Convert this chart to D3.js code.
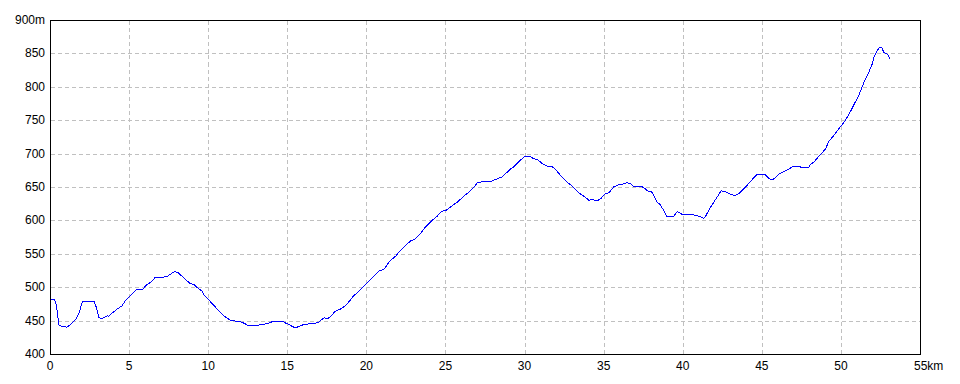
<!DOCTYPE html>
<html>
<head>
<meta charset="utf-8">
<script src="https://cdn.jsdelivr.net/npm/d3@7"></script>
<style>
  body { margin: 0; background: #fff; }
  text { font-family: "Liberation Sans Narrow", "Liberation Sans", sans-serif; font-size: 12px; fill: #000; }
</style>
</head>
<body>
<div id="chart"></div>
<script>
// distance (km) and elevation (m)
var distKm = [0, 0.25, 0.38, 0.53, 0.74, 1.05, 1.26, 1.58, 1.79, 2.0, 2.1, 2.42, 2.63, 2.74, 2.89, 3.05, 3.2, 3.37, 3.58, 3.69,
  3.9, 4.21, 4.53, 4.74, 5.06, 5.44, 5.8, 6.11, 6.32, 6.53, 6.64, 7.17, 7.38, 7.69, 7.84, 8.05, 8.32, 8.64, 8.85, 9.06,
  9.38, 9.59, 9.74, 10.07, 10.54, 10.96, 11.38, 11.7, 12.01, 12.22, 12.54, 12.96, 13.38, 13.7, 14.01, 14.43, 14.65, 14.86, 15.07, 15.28,
  15.49, 15.7, 16.02, 16.44, 16.75, 16.96, 17.18, 17.32, 17.49, 17.7, 18.02, 18.33, 18.65, 18.97, 19.17, 19.39, 19.6, 20.23, 20.55, 20.82,
  21.07, 21.39, 21.6, 21.81, 22.13, 22.44, 22.76, 23.07, 23.39, 23.71, 24.13, 24.45, 24.7, 25.02, 25.29, 25.71, 26.13, 26.45, 26.76, 26.98,
  27.08, 27.82, 28.13, 28.55, 28.83, 29.04, 29.29, 29.5, 29.76, 29.97, 30.35, 30.56, 30.77, 31.08, 31.4, 31.72, 31.93, 32.24, 32.67, 33.08,
  33.4, 33.72, 34.03, 34.24, 34.56, 34.77, 35.09, 35.3, 35.61, 35.93, 36.14, 36.41, 36.67, 36.88, 37.41, 37.62, 37.72, 38.04, 38.25, 38.35,
  38.52, 38.73, 38.94, 39.4, 39.62, 39.78, 39.97, 40.14, 40.67, 40.98, 41.3, 41.41, 41.72, 42.04, 42.4, 42.74, 43.09, 43.3, 43.52, 43.83,
  44.14, 44.63, 45.14, 45.41, 45.62, 45.83, 46.04, 46.36, 46.57, 46.89, 47.2, 47.52, 47.94, 48.05, 48.26, 48.47, 48.79, 49.0, 49.2, 49.52,
  49.84, 50.15, 50.47, 50.79, 51.1, 51.42, 51.74, 51.95, 52.06, 52.27, 52.43, 52.54, 52.69, 52.94, 53.06];

var elevM = [482, 482, 473, 444, 442, 441, 445, 452, 461, 478, 480, 480, 479, 480, 471, 456, 453, 455, 458, 457,
  462, 468, 473, 481, 488, 497, 497, 505, 508, 513, 516, 516, 517, 522, 524, 523, 517, 510, 506, 505,
  498, 495, 488, 480, 468, 458, 451, 450, 449, 447, 443, 443, 445, 446, 449, 450, 450, 447, 445, 442,
  440, 442, 445, 446, 447, 448, 453, 455, 453, 457, 465, 468, 473, 482, 488, 492, 497, 512, 520, 526,
  527, 538, 543, 547, 556, 563, 570, 573, 581, 591, 601, 607, 614, 616, 621, 628, 637, 643, 650, 657,
  658, 659, 662, 666, 672, 677, 681, 686, 692, 696, 696, 693, 692, 686, 682, 681, 677, 668, 658, 650,
  642, 637, 631, 632, 630, 633, 641, 642, 651, 654, 655, 657, 656, 651, 651, 648, 645, 643, 633, 628,
  625, 617, 607, 607, 614, 612, 609, 610, 609, 607, 604, 607, 620, 632, 645, 643, 639, 638, 641, 648,
  656, 669, 670, 664, 661, 665, 670, 674, 676, 681, 682, 680, 680, 685, 688, 694, 702, 708, 719, 728,
  738, 747, 759, 774, 788, 807, 823, 835, 845, 855, 860, 860, 852, 849, 843];

var xTicks = [0, 5, 10, 15, 20, 25, 30, 35, 40, 45, 50, 55];
var yTicks = [400, 450, 500, 550, 600, 650, 700, 750, 800, 850, 900];

var svgWidth = 960;
var svgHeight = 384;
var margin = { top: 20, left: 50, right: 40, bottom: 30 };
var width = svgWidth - margin.left - margin.right;
var height = svgHeight - margin.top - margin.bottom;

var profile = distKm.map(function(d, i) {
  return { km: d, elev: elevM[i] };
});

var svg = d3.select("#chart")
  .append("svg")
  .attr("width", svgWidth)
  .attr("height", svgHeight);

var chartGroup = svg.append("g")
  .attr("transform", `translate(${margin.left + 0.5}, ${margin.top + 0.5})`);

var xScale = d3.scaleLinear().domain([0, 55]).range([0, width]);
var yScale = d3.scaleLinear().domain([400, 900]).range([height, 0]);

// dashed grid
chartGroup.append("g")
  .selectAll("line")
  .data(xTicks.slice(1, -1))
  .enter()
  .append("line")
  .attr("x1", d => Math.round(xScale(d)))
  .attr("x2", d => Math.round(xScale(d)))
  .attr("y1", 0)
  .attr("y2", height)
  .attr("stroke", "#c0c0c0")
  .attr("stroke-dasharray", "4,3")
  .attr("shape-rendering", "crispEdges");

chartGroup.append("g")
  .selectAll("line")
  .data(yTicks.slice(1, -1))
  .enter()
  .append("line")
  .attr("x1", 0)
  .attr("x2", width)
  .attr("y1", d => Math.round(yScale(d)))
  .attr("y2", d => Math.round(yScale(d)))
  .attr("stroke", "#c0c0c0")
  .attr("stroke-dasharray", "4,3")
  .attr("shape-rendering", "crispEdges");

// frame
chartGroup.append("rect")
  .attr("x", 0)
  .attr("y", 0)
  .attr("width", width)
  .attr("height", height)
  .attr("fill", "none")
  .attr("stroke", "#000")
  .attr("shape-rendering", "crispEdges");

// tick labels
svg.append("g")
  .selectAll("text")
  .data(xTicks)
  .enter()
  .append("text")
  .attr("x", d => d === 55 ? margin.left + xScale(d) - 6 : margin.left + xScale(d))
  .attr("y", 370)
  .attr("text-anchor", d => d === 55 ? "start" : "middle")
  .text(d => d === 55 ? d + "km" : d);

svg.append("g")
  .selectAll("text")
  .data(yTicks)
  .enter()
  .append("text")
  .attr("x", 45)
  .attr("y", d => margin.top + yScale(d) + 4)
  .attr("text-anchor", "end")
  .text(d => d === 900 ? d + "m" : d);

// elevation profile
var line = d3.line()
  .x(d => xScale(d.km))
  .y(d => yScale(d.elev));

chartGroup.append("path")
  .datum(profile)
  .attr("d", line)
  .attr("fill", "none")
  .attr("stroke", "#0000ff")
  .attr("stroke-width", 1)
  .attr("shape-rendering", "crispEdges");
</script>
</body>
</html>
